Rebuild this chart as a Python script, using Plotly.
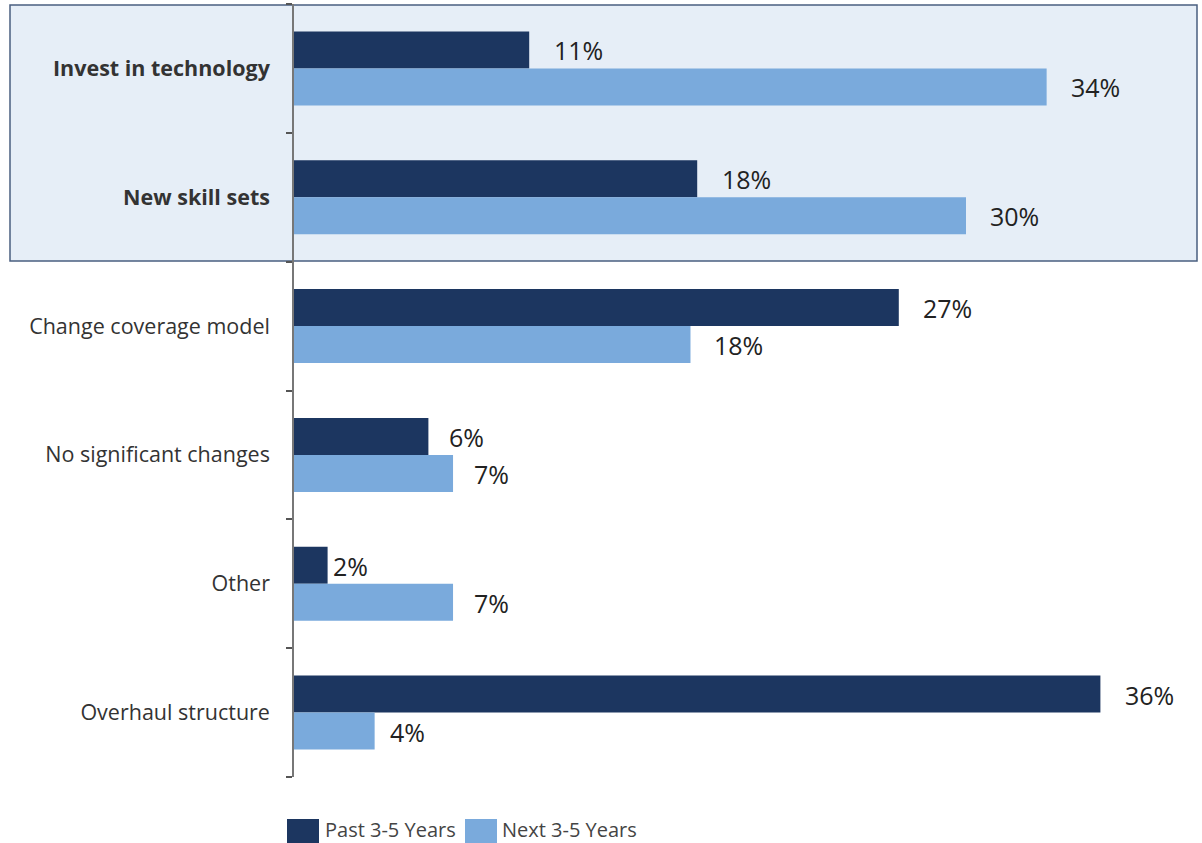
import plotly.graph_objects as go

categories = ["Invest in technology", "New skill sets", "Change coverage model",
              "No significant changes", "Other", "Overhaul structure"]
bold_categories = ["Invest in technology", "New skill sets"]
past_values = [10.5, 18.0, 27.0, 6.0, 1.5, 36.0]
next_values = [33.6, 30.0, 17.7, 7.1, 7.1, 3.6]
past_labels = ["11%", "18%", "27%", "6%", "2%", "36%"]
next_labels = ["34%", "30%", "18%", "7%", "7%", "4%"]
series_names = ["Past 3-5 Years", "Next 3-5 Years"]

# ---- style ----
W, H = 1202, 843
L, R, T, B = 294, 12, 4, 66
XMAX = 40
DARK = "#1c3660"
LIGHT = "#7aaadc"
FONT = "Open Sans"
past_gap = [23, 23, 22, 19, 3, 23]
next_gap = [22, 22, 22, 19, 19, 13]

ticktext = [f"<b>{c}</b>" if c in bold_categories else c for c in categories]

fig = go.Figure()
fig.add_trace(go.Bar(y=categories, x=past_values, orientation="h", name=series_names[0],
                     marker=dict(color=DARK, line=dict(width=0)), showlegend=False))
fig.add_trace(go.Bar(y=categories, x=next_values, orientation="h", name=series_names[1],
                     marker=dict(color=LIGHT, line=dict(width=0)), showlegend=False))

plot_h = H - T - B
anns = []
for i, c in enumerate(categories):
    anns.append(dict(x=past_values[i], y=c, text=past_labels[i], xanchor="left", yanchor="middle",
                     xshift=past_gap[i], yshift=18, showarrow=False,
                     font=dict(family=FONT, size=25, color="#222222")))
    anns.append(dict(x=next_values[i], y=c, text=next_labels[i], xanchor="left", yanchor="middle",
                     xshift=next_gap[i], yshift=-19, showarrow=False,
                     font=dict(family=FONT, size=25, color="#222222")))

plot_w = W - L - R
def px_x(p):
    return (p - L) / plot_w
def px_y(p):
    return 1 - (p - T) / plot_h

shapes = [dict(type="rect", xref="paper", yref="paper", layer="below",
               x0=px_x(10), x1=px_x(1197), y0=px_y(261), y1=px_y(5),
               fillcolor="#e6eef7", line=dict(color="#4a5f80", width=1.5))]

# manual legend
legend_items = [(287, 323, DARK, series_names[0]), (465, 500, LIGHT, series_names[1])]
for sx, tx, col, name in legend_items:
    shapes.append(dict(type="rect", xref="paper", yref="paper",
                       x0=px_x(sx), x1=px_x(sx + 32), y0=px_y(843), y1=px_y(819),
                       fillcolor=col, line=dict(width=0)))
    anns.append(dict(xref="paper", yref="paper", x=px_x(tx), y=px_y(829), text=name,
                     xanchor="left", yanchor="middle", showarrow=False,
                     font=dict(family=FONT, size=20, color="#444444")))

fig.update_layout(
    width=W, height=H, autosize=False,
    margin=dict(l=L, r=R, t=T, b=B, pad=0),
    paper_bgcolor="white", plot_bgcolor="rgba(0,0,0,0)",
    barmode="group", bargap=0.426, bargroupgap=0,
    font=dict(family=FONT, color="#333333"),
    shapes=shapes, annotations=anns,
    xaxis=dict(range=[0, XMAX], visible=False, fixedrange=True),
    yaxis=dict(autorange="reversed", tickmode="array", tickvals=categories, ticktext=ticktext,
               tickson="boundaries", ticks="outside", ticklen=6, tickwidth=1.5, tickcolor="#555555",
               showline=True, linecolor="#777777", linewidth=1.5, showgrid=False,
               tickfont=dict(family=FONT, size=21.5, color="#333333"),
               ticklabelstandoff=18, zeroline=False),
)

fig.write_html("out.html")
